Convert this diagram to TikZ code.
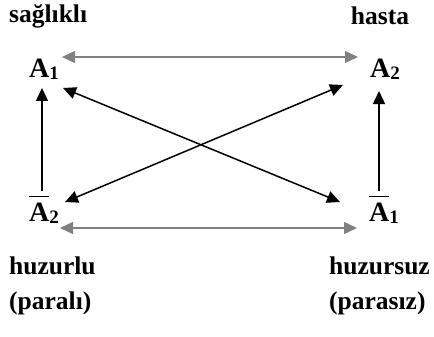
\documentclass[tikz,border=0pt]{standalone}
\usepackage{fontspec}
\setmainfont{Liberation Serif}
\usetikzlibrary{arrows.meta,calc}
\newcommand{\subn}[1]{\raisebox{-2pt}{\fontsize{19}{20}\selectfont #1}}
\newcommand{\barA}{$\overline{\hbox{\rule{0pt}{23pt}A}}$}
\begin{document}
\begin{tikzpicture}[x=1pt,y=-1pt,
  lbl/.style={inner sep=0pt,font=\fontsize{25.5}{28}\selectfont\bfseries},
  sym/.style={inner sep=0pt,font=\fontsize{28}{30}\selectfont\bfseries},
  tip/.style={-{Triangle[length=13pt,width=12pt]}},
  dbl/.style={{Triangle[length=13pt,width=12pt]}-{Triangle[length=13pt,width=12pt]}},
  grayline/.style={draw=black!50,line width=1.3pt},
  blackline/.style={draw=black,line width=1.5pt}]
\useasboundingbox (0,0) rectangle (434,337);
\node[lbl,anchor=west] (sag) at (9,16) {sağlıklı};
\node[lbl] (has) at (380,16) {hasta};
\node[sym] (A1) at (44,69) {A\subn{1}};
\node[sym] (A2) at (385,69) {A\subn{2}};
\node[sym,anchor=base] (nA2) at (44,221) {\barA\subn{2}};
\node[sym,anchor=base] (nA1) at (384,221) {\barA\subn{1}};
\node[lbl,anchor=west] (huz) at (9,266) {huzurlu};
\node[lbl,anchor=west] (huzs) at (329,266) {huzursuz};
\node[lbl,anchor=west] (par) at (9,303) {(paralı)};
\node[lbl,anchor=west] (pars) at (329,303) {(parasız)};
% horizontal double arrows
\draw[dbl,grayline] ($(A1)+(18,-12)$) -- ($(A2)+(-27,-12)$);
\draw[dbl,grayline] ($(nA2.base)+(16,7)$) -- ($(nA1.base)+(-27,7)$);
% vertical arrows
\draw[tip,blackline] ($(nA2.base)+(-2,-30)$) -- ($(A1)+(-2,19)$);
\draw[tip,blackline] ($(nA1.base)+(-5,-30)$) -- ($(A2)+(-6,22)$);
% diagonals
\draw[dbl,blackline] ($(A1)+(19,19)$) -- ($(nA1.base)+(-44,-19)$);
\draw[dbl,blackline] ($(A2)+(-42,16)$) -- ($(nA2.base)+(21,-19)$);
\end{tikzpicture}
\end{document}
